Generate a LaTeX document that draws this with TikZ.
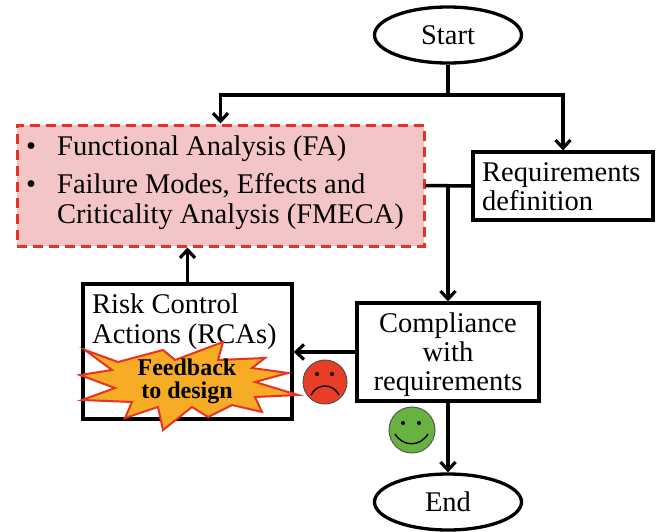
\documentclass[tikz,border=0pt]{standalone}
\usepackage{fontspec}
\setmainfont{Liberation Serif}
\usetikzlibrary{arrows.meta,shapes.geometric}
\definecolor{pinkfill}{RGB}{243,197,199}
\definecolor{reddash}{RGB}{233,50,38}
\definecolor{burstfill}{RGB}{246,172,36}
\definecolor{sadred}{RGB}{232,62,40}
\definecolor{happygreen}{RGB}{104,178,66}
\begin{document}
\begin{tikzpicture}[x=1pt,y=-1pt,
  every node/.style={font=\fontsize{28.5}{30}\selectfont, inner sep=0pt},
  box/.style={draw, line width=3.3pt, rectangle},
  terminal/.style={draw, ellipse, line width=3.3pt, minimum width=147pt, minimum height=56pt},
  conn/.style={line width=3.5pt},
  arr/.style={conn, -{Straight Barb[length=8pt,width=15pt,line width=3.2pt]}},
  txt/.style={anchor=base west},
  ctxt/.style={anchor=base},
  face/.style={draw=black!70, line width=0.9pt},
  burst/.style={draw=reddash, fill=burstfill, line width=2pt, line join=miter},
  btxt/.style={anchor=base, font=\fontsize{24}{26}\selectfont\bfseries},
]
\useasboundingbox (0,0) rectangle (657,531);

% terminals
\node[terminal] (start) at (448,35) {Start};
\node[terminal] (end) at (448,502) {End};

% analysis box
\node[draw=reddash, fill=pinkfill, line width=3pt, dash pattern=on 10pt off 6pt,
      minimum width=407pt, minimum height=121pt] (fa) at (220.5,185.5) {};
\node[txt] (b1) at (26,155) {•};
\node[txt] (t1) at (57,155) {Functional Analysis (FA)};
\node[txt] (b2) at (26,193) {•};
\node[txt] (t2) at (57,193) {Failure Modes, Effects and};
\node[txt] (t3) at (57,223) {Criticality Analysis (FMECA)};

% requirements
\node[box, minimum width=180pt, minimum height=68pt] (req) at (563,186) {};
\node[txt] (r1) at (482,181) {Requirements};
\node[txt] (r2) at (482,210) {definition};

% compliance
\node[box, minimum width=182pt, minimum height=98pt] (comp) at (448,352) {};
\node[ctxt] (c1) at (448,332) {Compliance};
\node[ctxt] (c2) at (448,361) {with};
\node[ctxt] (c3) at (448,390) {requirements};

% risk control
\node[box, minimum width=209pt, minimum height=135pt] (risk) at (187.5,351.5) {};
\node[txt] (k1) at (92,313) {Risk Control};
\node[txt] (k2) at (92,343) {Actions (RCAs)};

% connectors
\coordinate (split) at (448,95);
\coordinate (join) at (448,185.5);
\draw[conn] (start.south) -- (split);
\draw[arr] (split) -| (fa.north);
\draw[arr] (split) -| (req.north);
\draw[conn] (fa.east) -- (req.west);
\draw[arr] (join) -- (comp.north);
\draw[arr] (comp.south) -- (end.north);
\draw[arr] (comp.west) -- (comp.west -| risk.east);
\draw[arr] (risk.north) -- (risk.north |- fa.south);

% starburst
\draw[burst] (85,350) -- (118,362) -- (163,350) -- (175,360) -- (223,342) -- (218,360)
  -- (265,358) -- (252,368) -- (288,373) -- (255,382) -- (298,395) -- (255,397)
  -- (262,412) -- (232,405) -- (208,417) -- (192,407) -- (163,430) -- (158,407)
  -- (125,418) -- (132,402) -- (82,400) -- (115,388) -- (80,375) -- (112,370) -- cycle;
\node[btxt] (f1) at (187,375) {Feedback};
\node[btxt] (f2) at (187,398) {to design};

% sad face
\filldraw[face, fill=sadred] (325,382) circle (22pt);
\fill (317,374) circle (2pt);
\fill (332,374) circle (2pt);
\draw[line width=1.4pt] (311,395) .. controls (317,383) and (333,383) .. (339,395);

% happy face
\filldraw[face, fill=happygreen] (412,430) circle (23pt);
\fill (403,423) circle (2pt);
\fill (419,423) circle (2pt);
\draw[line width=1.4pt] (395,434) .. controls (403,447) and (420,447) .. (428,434);
\end{tikzpicture}
\end{document}
